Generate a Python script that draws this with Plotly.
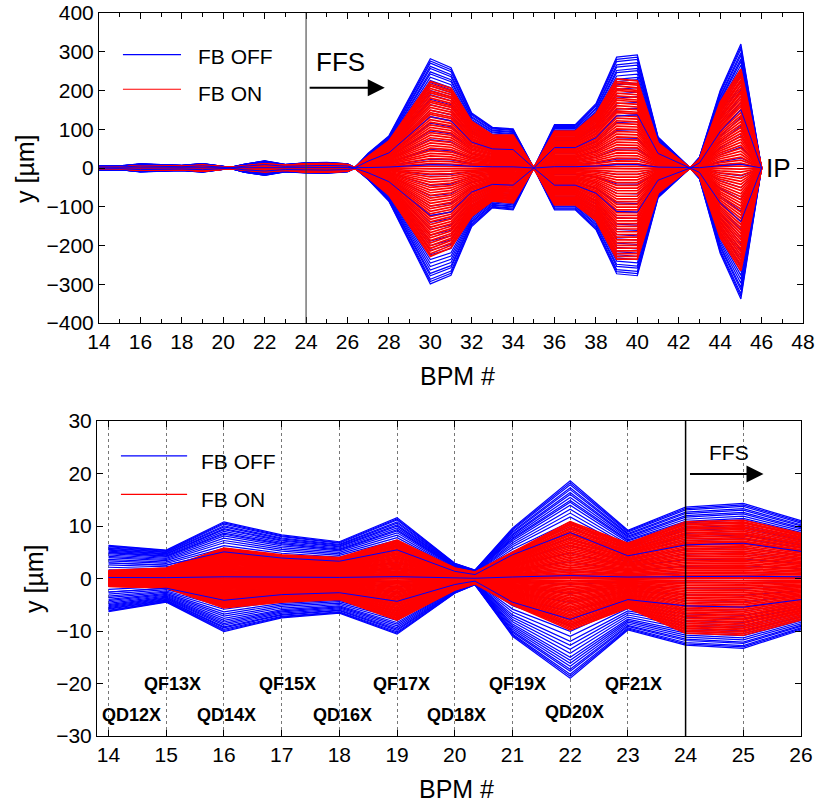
import plotly.graph_objects as go

# ---------------- data ----------------
BPM_X = [14, 15, 16, 17, 18, 19, 20, 20.35, 21, 22, 23, 24, 25, 26, 26.35, 27, 28,
         30, 31, 32, 33, 34, 35, 36, 37, 38, 39, 40, 41, 42.55, 43, 44, 45, 46]

# envelope of orbits, FB OFF (blue) - upper and lower magnitude [um]
OFF_UPPER = [6.3, 5.4, 10.8, 8.3, 7.0, 11.6, 2.9, 1.6, 9.6, 18.6, 9.2, 13.6, 14.3, 11.0, 1.0, 38, 83,
             282, 259, 142, 105, 101, 0, 112, 112, 166, 286, 292, 80, 0, 28, 200, 320, 0]
OFF_LOWER = [6.3, 4.5, 10.1, 7.5, 6.6, 10.6, 2.8, 1.2, 11.0, 19.0, 9.8, 12.7, 13.3, 9.8, 1.0, 30, 86,
             299, 277, 151, 103, 108, 0, 108, 108, 159, 273, 278, 77, 0, 28, 220, 338, 0]
# envelope of orbits, FB ON (red)
ON_UPPER = [1.5, 2.0, 5.8, 4.5, 4.0, 7.3, 2.0, 1.2, 5.0, 10.8, 6.7, 10.8, 11.1, 8.6, 0.8, 30, 70,
            223, 206, 120, 85, 85, 0, 95, 95, 140, 230, 225, 65, 0, 22, 170, 255, 0]
ON_LOWER = [1.5, 1.8, 5.6, 4.5, 4.0, 7.9, 2.2, 1.0, 5.0, 9.8, 5.6, 10.4, 10.8, 7.9, 0.8, 25, 70,
            228, 206, 125, 85, 90, 0, 95, 95, 135, 235, 235, 65, 0, 22, 180, 265, 0]

# relative position of each recorded orbit inside its envelope
OFF_LEVELS = [1.00, 0.98, 0.96, 0.93, 0.91, 0.88, 0.86, 0.83, 0.80, 0.78, 0.75, 0.71, 0.67,
              0.63, 0.58, 0.53, 0.47, 0.41, 0.34, 0.26, 0.17, 0.08, 0.03, -0.06, -0.15, -0.24,
              -0.33, -0.41, -0.47, -0.53, -0.58, -0.63, -0.67, -0.71, -0.75, -0.79, -0.82,
              -0.85, -0.88, -0.91, -0.93, -0.96, -0.98, -1.00]
ON_LEVELS = [1.00, 0.97, 0.95, 0.92, 0.89, 0.87, 0.84, 0.81, 0.78, 0.76, 0.73, 0.70, 0.67,
             0.64, 0.62, 0.59, 0.56, 0.53, 0.50, 0.47, 0.44, 0.41, 0.38, 0.35, 0.32, 0.29,
             0.26, 0.23, 0.20, 0.17, 0.14, 0.11, 0.08, 0.05, 0.02, -0.01, -0.04, -0.07, -0.10,
             -0.13, -0.16, -0.19, -0.22, -0.25, -0.28, -0.31, -0.34, -0.37, -0.40, -0.43,
             -0.46, -0.49, -0.52, -0.55, -0.58, -0.61, -0.64, -0.67, -0.70, -0.73, -0.76,
             -0.79, -0.82, -0.85, -0.88, -0.91, -0.94, -0.97, -1.00]
OFF_VISIBLE_LEVELS = [0.03, -0.41, 0.47]

QUAD_NAMES = ["QD12X", "QF13X", "QD14X", "QF15X", "QD16X", "QF17X", "QD18X", "QF19X", "QD20X", "QF21X"]
QUAD_X = [14.39, 15.10, 16.05, 17.10, 18.06, 19.08, 20.03, 21.08, 22.07, 23.09]
QUAD_Y = [-26, -20, -26, -20, -26, -20, -26, -20, -25.4, -20]

FONT = "Liberation Sans, Arial, Helvetica, sans-serif"
BLUE = "#0000ff"
RED = "#ff0000"

W, H = 818, 804


def px_x(px):
    return px / W


def px_y(px):
    return 1 - px / H


def orbit_lines(levels, upper, lower):
    xs, ys = [], []
    for lev in levels:
        env = upper if lev >= 0 else lower
        for x, e in zip(BPM_X, env):
            xs.append(x)
            ys.append(lev * e)
        xs.append(None)
        ys.append(None)
    return xs, ys


fig = go.Figure()
for xa, ya in (("x", "y"), ("x2", "y2")):
    bx, by = orbit_lines(OFF_LEVELS, OFF_UPPER, OFF_LOWER)
    fig.add_trace(go.Scatter(x=bx, y=by, mode="lines", line=dict(color=BLUE, width=1.2),
                             xaxis=xa, yaxis=ya, showlegend=False, hoverinfo="skip"))
    rx, ry = orbit_lines(ON_LEVELS, ON_UPPER, ON_LOWER)
    fig.add_trace(go.Scatter(x=rx, y=ry, mode="lines", line=dict(color=RED, width=1.7),
                             xaxis=xa, yaxis=ya, showlegend=False, hoverinfo="skip"))
    vx, vy = orbit_lines(OFF_VISIBLE_LEVELS, OFF_UPPER, OFF_LOWER)
    fig.add_trace(go.Scatter(x=vx, y=vy, mode="lines", line=dict(color=BLUE, width=1),
                             xaxis=xa, yaxis=ya, showlegend=False, hoverinfo="skip"))

axis_common = dict(showline=True, linecolor="black", linewidth=1, mirror="ticks",
                   ticks="inside", tickcolor="black", ticklen=6, zeroline=False,
                   automargin=False, ticklabeloverflow="allow",
                   tickfont=dict(family=FONT, size=21, color="black"))

fig.update_layout(
    template="none",
    width=W, height=H,
    margin=dict(l=0, r=0, t=0, b=0, autoexpand=False),
    paper_bgcolor="white", plot_bgcolor="white",
    showlegend=False,
    font=dict(family=FONT, color="black"),
    xaxis=dict(domain=[px_x(99), px_x(803)], range=[14, 48], tickmode="linear", tick0=14, dtick=2,
               showgrid=False, anchor="y",
               minor=dict(dtick=1, ticks="inside", ticklen=4, tickcolor="black", showgrid=False),
               **axis_common),
    yaxis=dict(domain=[px_y(323), px_y(13)], range=[-400, 400], tickmode="linear", tick0=-400,
               dtick=100, showgrid=False, anchor="x", **axis_common),
    xaxis2=dict(domain=[px_x(97), px_x(801)], range=[13.8, 26], tickmode="linear", tick0=14, dtick=1,
                showgrid=True, gridcolor="#777777", griddash="dot", gridwidth=1, anchor="y2",
                **axis_common),
    yaxis2=dict(domain=[px_y(736), px_y(421)], range=[-30, 30], tickmode="linear", tick0=-30, dtick=10,
                showgrid=False, anchor="x2", **axis_common),
)

shapes = [
    dict(type="line", xref="x", yref="y domain", x0=24, x1=24, y0=0, y1=1,
         line=dict(color="#333333", width=1)),
    dict(type="line", xref="x2", yref="y2 domain", x0=24, x1=24, y0=0, y1=1,
         line=dict(color="black", width=1.5)),
    # manual legends
    dict(type="line", xref="x domain", yref="y domain", x0=0.034, x1=0.1165, y0=0.8655, y1=0.8655,
         line=dict(color=BLUE, width=1.2)),
    dict(type="line", xref="x domain", yref="y domain", x0=0.034, x1=0.1165, y0=0.754, y1=0.754,
         line=dict(color=RED, width=1.2)),
    dict(type="line", xref="x2 domain", yref="y2 domain", x0=0.034, x1=0.128, y0=0.889, y1=0.889,
         line=dict(color=BLUE, width=1.2)),
    dict(type="line", xref="x2 domain", yref="y2 domain", x0=0.034, x1=0.128, y0=0.767, y1=0.767,
         line=dict(color=RED, width=1.2)),
]
fig.update_layout(shapes=shapes)

C = dict(xanchor="center", yanchor="middle", showarrow=False)
ann = []
# legend texts
ann += [
    dict(xref="x domain", yref="y domain", x=0.138, y=0.861, text="FB OFF", showarrow=False,
         xanchor="left", yanchor="middle", font=dict(size=21)),
    dict(xref="x domain", yref="y domain", x=0.138, y=0.739, text="FB ON", showarrow=False,
         xanchor="left", yanchor="middle", font=dict(size=21)),
    dict(xref="x2 domain", yref="y2 domain", x=0.145, y=0.870, text="FB OFF", showarrow=False,
         xanchor="left", yanchor="middle", font=dict(size=21)),
    dict(xref="x2 domain", yref="y2 domain", x=0.145, y=0.752, text="FB ON", showarrow=False,
         xanchor="left", yanchor="middle", font=dict(size=21)),
]
# FFS arrows and IP
ann += [
    dict(xref="x", yref="y", x=25.64, y=274, text="FFS", font=dict(size=26), **C),
    dict(xref="x", yref="y", x=27.8, y=207, ax=24.1, ay=207, axref="x", ayref="y", text="",
         showarrow=True, arrowhead=2, arrowsize=1.7, arrowwidth=2, arrowcolor="black"),
    dict(xref="x", yref="y", x=46.1, y=0, text="IP", showarrow=False, xanchor="left",
         yanchor="middle", font=dict(size=26)),
    dict(xref="x2", yref="y2", x=24.75, y=24, text="FFS", font=dict(size=21), **C),
    dict(xref="x2", yref="y2", x=25.35, y=19.9, ax=24.05, ay=19.9, axref="x2", ayref="y2", text="",
         showarrow=True, arrowhead=2, arrowsize=1.7, arrowwidth=2, arrowcolor="black"),
]
for name, qx, qy in zip(QUAD_NAMES, QUAD_X, QUAD_Y):
    ann.append(dict(xref="x2", yref="y2", x=qx, y=qy, text="<b>%s</b>" % name,
                    font=dict(size=18), **C))
# axis titles
ann += [
    dict(xref="paper", yref="paper", x=px_x(457), y=px_y(376), text="BPM #",
         font=dict(size=25), **C),
    dict(xref="paper", yref="paper", x=px_x(456), y=px_y(789), text="BPM #",
         font=dict(size=25), **C),
    dict(xref="paper", yref="paper", x=px_x(25), y=px_y(169), text="y [µm]",
         textangle=-90, font=dict(size=25), **C),
    dict(xref="paper", yref="paper", x=px_x(34), y=px_y(579), text="y [µm]",
         textangle=-90, font=dict(size=25), **C),
]
fig.update_layout(annotations=ann)

fig.write_html(
    "out.html",
    config={"displayModeBar": False},
    post_script="document.body.style.margin='0';document.body.style.overflow='hidden';",
)
